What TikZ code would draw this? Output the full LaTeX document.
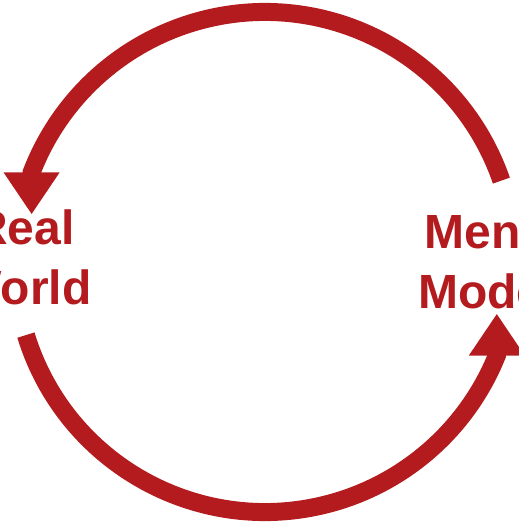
\documentclass[tikz,border=0pt]{standalone}
\usepackage{fontspec}
\setmainfont{Liberation Sans}
\usetikzlibrary{arrows.meta}
\definecolor{CycleRed}{HTML}{B31B1E}
\newcommand{\LabelFont}{\bfseries\fontsize{48pt}{60pt}\selectfont}

\begin{document}
\begin{tikzpicture}[x=1pt, y=1pt,
    cyclearc/.style={CycleRed, line width=18pt, -{Triangle[width=53pt, length=42pt]}},
    sidelabel/.style={text=CycleRed, font=\LabelFont, align=center, inner sep=0pt}]
  % page frame, the picture is cut at its edges
  \useasboundingbox (0,0) rectangle (519,-525);
  \clip (0,0) rectangle (519,-525);
  \coordinate (hub) at (265,-262);
  % the two halves of the loop, each ending in a straight tip
  \draw[cyclearc] (hub) ++(19:250) arc[start angle=19, end angle=159, radius=250] -- ++(0,-42);
  \draw[cyclearc] (hub) ++(197:250) arc[start angle=197, end angle=338, radius=250] -- ++(0,42);
  % labels at both ends
  \node[sidelabel] (realworld) at (24,-257.5) {Real\\World};
  \node[sidelabel] (mentalmodel) at (501,-261) {Mental\\Models};
\end{tikzpicture}
\end{document}
